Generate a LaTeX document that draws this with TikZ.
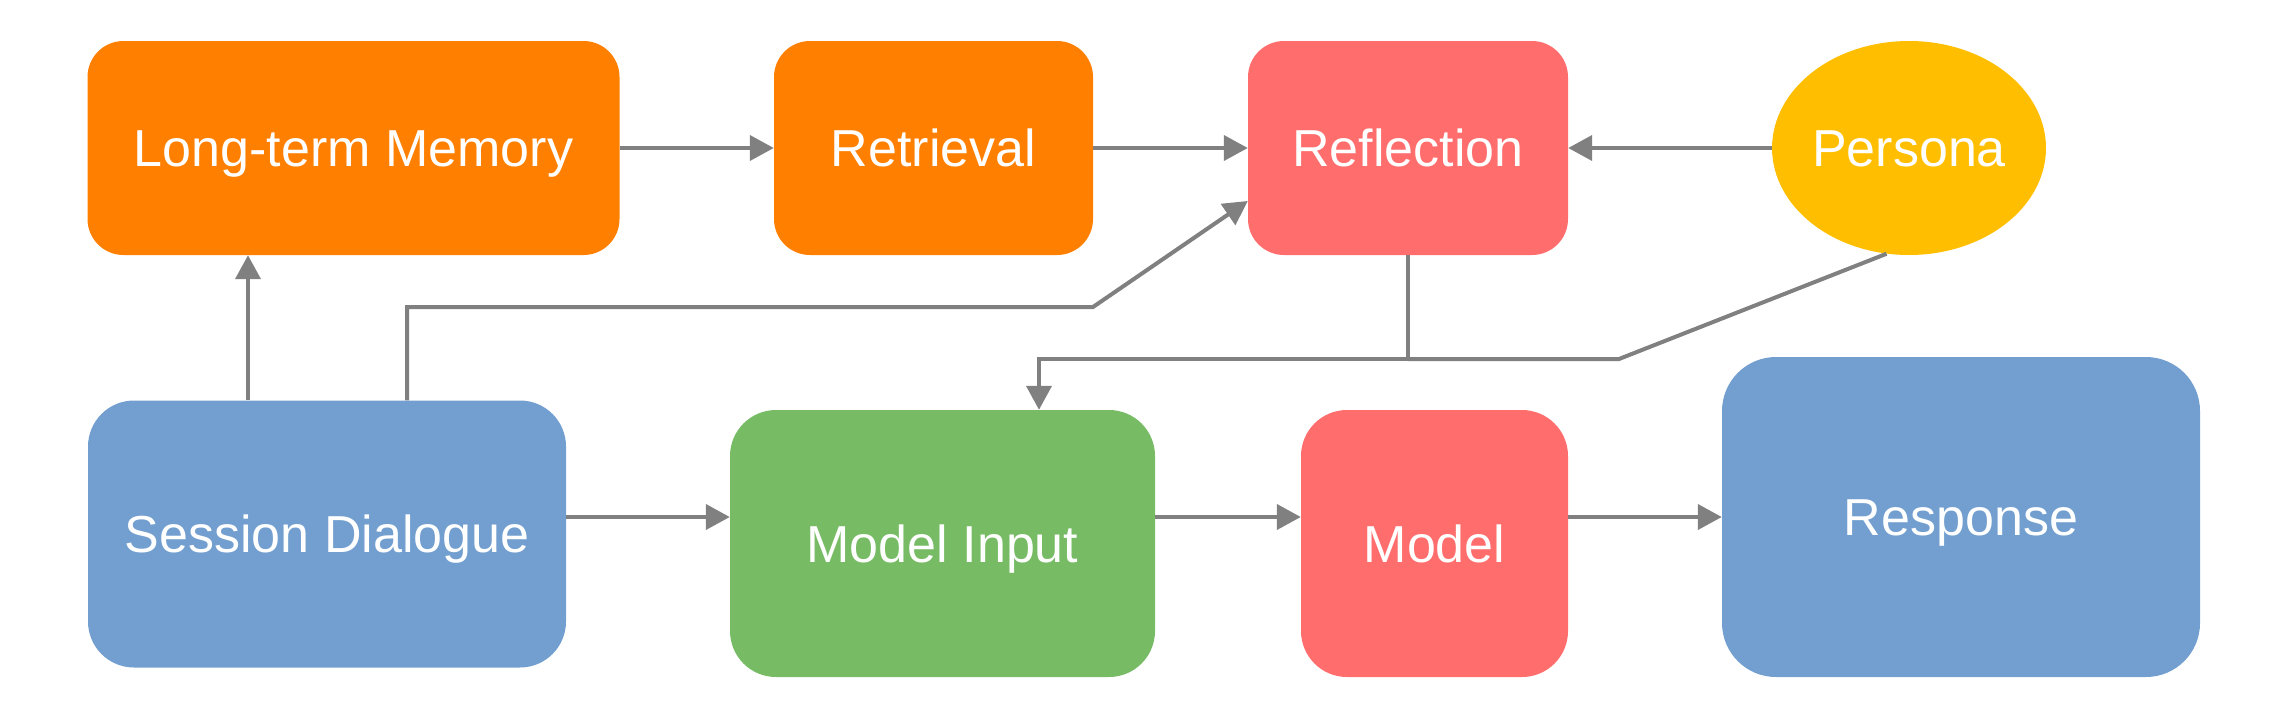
\documentclass[tikz,border=0pt]{standalone}
\usepackage{fontspec}
\setmainfont{Liberation Sans}
\usetikzlibrary{arrows.meta,shapes.geometric}
\definecolor{cOrange}{HTML}{FF8000}
\definecolor{cRed}{HTML}{FF6D6D}
\definecolor{cBlue}{HTML}{729FCF}
\definecolor{cGreen}{HTML}{77BC65}
\definecolor{cYellow}{HTML}{FFBF00}
\definecolor{cGray}{HTML}{808080}
\begin{document}
\begin{tikzpicture}[x=1pt,y=-1pt,
  box/.style={rectangle, inner sep=0pt, text=white,
    font=\fontsize{52}{60}\selectfont, text height=37pt, text depth=0pt},
  arr/.style={draw=cGray, line width=4pt, -{Triangle[length=24pt,width=25pt]}},
  ln/.style={draw=cGray, line width=4pt}]
\path[use as bounding box] (0,0) rectangle (2286,718);

\node[box, fill=cOrange, rounded corners=36pt, minimum width=532pt, minimum height=214pt] (ltm) at (353.5,148) {Long-term Memory};
\node[box, fill=cOrange, rounded corners=36pt, minimum width=319pt, minimum height=214pt] (ret) at (933.5,148) {Retrieval};
\node[box, fill=cRed, rounded corners=36pt, minimum width=320pt, minimum height=214pt] (ref) at (1408,148) {Reflection};
\node[box, ellipse, fill=cYellow, minimum width=266pt, minimum height=214pt] (per) at (1909,148) {Persona};
\node[box, fill=cBlue, rounded corners=46pt, minimum width=478pt, minimum height=267pt] (sd) at (327,534) {Session Dialogue};
\node[box, fill=cGreen, rounded corners=46pt, minimum width=425pt, minimum height=267pt] (mi) at (942.5,543.5) {Model Input};
\node[box, fill=cRed, rounded corners=46pt, minimum width=267pt, minimum height=267pt] (mod) at (1434.5,543.5) {Model};
\node[box, fill=cBlue, rounded corners=54pt, minimum width=478pt, minimum height=320pt] (resp) at (1961,517) {Response};

\coordinate (xa) at (248,0);
\coordinate (xb) at (407,0);
\coordinate (kb) at (1093,307);
\coordinate (kr) at (0,201);
\coordinate (xc) at (1039,0);
\coordinate (yc) at (0,359);
\coordinate (kc) at (1619,359);
\coordinate (ya) at (0,517);

\draw[arr] (ltm.east) -- (ret.west);
\draw[arr] (ret.west -| ret.east) -- (ref.west);
\draw[arr] (per.west) -- (ref.east);
\draw[arr] (sd.north -| xa) -- (ltm.south -| xa);
\draw[arr] (sd.north -| xb) |- (kb) -- (ref.west |- kr);
\draw[arr] (ref.south) -- (ref.south |- yc) -| (mi.north -| xc);
\draw[ln] (per.258) -- (kc) -- (ref.south |- yc);
\draw[arr] (sd.east |- ya) -- (mi.west |- ya);
\draw[arr] (mi.east |- ya) -- (mod.west |- ya);
\draw[arr] (mod.east |- ya) -- (resp.west |- ya);
\end{tikzpicture}
\end{document}
